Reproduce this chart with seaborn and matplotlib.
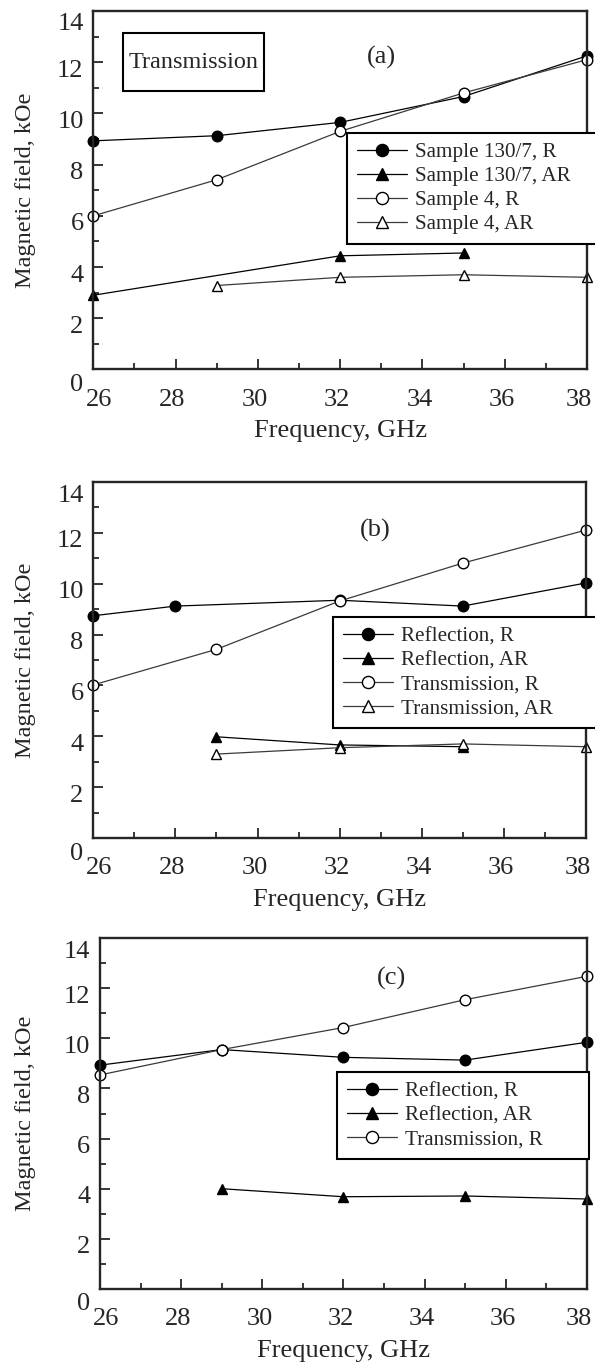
import matplotlib
matplotlib.use("Agg")
import matplotlib.pyplot as plt
import matplotlib.transforms as mtransforms
from matplotlib.patches import Rectangle
import seaborn as sns
import pandas as pd
from matplotlib.ticker import MultipleLocator

sns.set_style("ticks")
plt.rcParams['font.family'] = ['Liberation Serif', 'DejaVu Serif']

# ---------------- data ----------------
# Panel (a)
a_s130_R_x = [26, 29, 32, 35, 38]
a_s130_R_y = [8.93, 9.13, 9.65, 10.66, 12.25]
a_s130_AR_x = [26, 32, 35]
a_s130_AR_y = [2.9, 4.44, 4.55]
a_s4_R_x = [26, 29, 32, 35, 38]
a_s4_R_y = [6.0, 7.41, 9.3, 10.8, 12.1]
a_s4_AR_x = [29, 32, 35, 38]
a_s4_AR_y = [3.28, 3.6, 3.7, 3.6]
a_labels = ["Sample 130/7, R", "Sample 130/7, AR", "Sample 4, R", "Sample 4, AR"]

# Panel (b)
b_refl_R_x = [26, 28, 32, 35, 38]
b_refl_R_y = [8.74, 9.12, 9.35, 9.12, 10.03]
b_refl_AR_x = [29, 32, 35]
b_refl_AR_y = [3.98, 3.66, 3.59]
b_trans_R_x = [26, 29, 32, 35, 38]
b_trans_R_y = [6.02, 7.42, 9.32, 10.81, 12.11]
b_trans_AR_x = [29, 32, 35, 38]
b_trans_AR_y = [3.3, 3.55, 3.7, 3.59]
b_labels = ["Reflection, R", "Reflection, AR", "Transmission, R", "Transmission, AR"]

# Panel (c)
c_refl_R_x = [26, 29, 32, 35, 38]
c_refl_R_y = [8.93, 9.55, 9.24, 9.13, 9.84]
c_refl_AR_x = [29, 32, 35, 38]
c_refl_AR_y = [4.0, 3.68, 3.71, 3.59]
c_trans_R_x = [26, 29, 32, 35, 38]
c_trans_R_y = [8.54, 9.55, 10.43, 11.54, 12.47]
c_labels = ["Reflection, R", "Reflection, AR", "Transmission, R"]

x_ticks = [26, 28, 30, 32, 34, 36, 38]
y_ticks = [0, 2, 4, 6, 8, 10, 12, 14]
x_label = "Frequency, GHz"
y_label = "Magnetic field, kOe"

# ---------------- styles ----------------
STY = {
    "fc": dict(marker="o", markersize=7.6, markerfacecolor="black", markeredgecolor="black", color="black"),
    "ft": dict(marker="^", markersize=7.6, markerfacecolor="black", markeredgecolor="black", color="black"),
    "oc": dict(marker="o", markersize=7.6, markerfacecolor="white", markeredgecolor="black", color="#3a3a3a"),
    "ot": dict(marker="^", markersize=7.0, markerfacecolor="white", markeredgecolor="black", color="#3a3a3a"),
}

W, H = 595, 1363
fig = plt.figure(figsize=(W / 100, H / 100), dpi=100)


def make_axes(l, t, r, b):
    return fig.add_axes([l / W, 1 - b / H, (r - l) / W, (b - t) / H])


def offset(text, dx, dy):
    text.set_transform(text.get_transform() +
                       mtransforms.ScaledTranslation(dx / 100, -dy / 100, fig.dpi_scale_trans))


def draw(ax, series, labels, leg_px, panel_label, label_px, fig_box):
    l, t, r, b = fig_box
    for (x, y, key), lab in zip(series, labels):
        df = pd.DataFrame({"x": x, "y": y})
        sns.lineplot(data=df, x="x", y="y", ax=ax, label=lab, linewidth=0.9,
                     markeredgewidth=1.0, clip_on=False, **STY[key])
    ax.set_xlim(26, 38)
    ax.set_ylim(0, 14)
    ax.set_xticks(x_ticks)
    ax.set_yticks(y_ticks)
    ax.xaxis.set_minor_locator(MultipleLocator(1))
    ax.yaxis.set_minor_locator(MultipleLocator(1))
    ax.tick_params(axis="both", which="both", direction="in", top=False, right=False,
                   labelsize=19, width=1.3)
    ax.tick_params(which="major", length=7.5)
    ax.tick_params(which="minor", length=4.5)
    ax.tick_params(axis="x", pad=14)
    ax.tick_params(axis="y", pad=7)
    # fine placement of tick labels like in the original
    xt = ax.xaxis.get_major_ticks()
    for i, tk in enumerate(xt):
        dx = {0: 6, len(xt) - 1: -8}.get(i, -3)
        offset(tk.label1, dx, 0)
    yt = ax.yaxis.get_major_ticks()
    for i, tk in enumerate(yt):
        dy = {0: 13, len(yt) - 1: 11}.get(i, 6)
        offset(tk.label1, 0, dy)
    ax.set_xlabel(x_label, fontsize=19)
    ax.set_ylabel(y_label, fontsize=17.5)
    ax.xaxis.set_label_coords(0.5, -51 / (b - t))
    ax.yaxis.set_label_coords((36 - l) / (r - l), 0.5)
    for s in ax.spines.values():
        s.set_linewidth(1.7)
        s.set_visible(True)
    lx, ly, lr = leg_px
    leg = ax.legend(loc="upper left",
                    bbox_to_anchor=((lx - l) / (r - l), (b - ly) / (b - t),
                                    (lr - lx) / (r - l), 0),
                    mode="expand", markerscale=1.15,
                    frameon=True, fancybox=False, fontsize=15.2, handlelength=2.4,
                    handletextpad=0.35, labelspacing=0.2, borderpad=0.45,
                    borderaxespad=0, edgecolor="black", framealpha=1)
    leg.get_frame().set_linewidth(1.5)
    leg.set_clip_on(False)
    px, py = label_px
    ax.text((px - l) / (r - l), (b - py) / (b - t), panel_label, transform=ax.transAxes,
            fontsize=19, ha="center", va="center")


# Panel (a)
box_a = (93.3, 11, 587, 369.5)
ax_a = make_axes(*box_a)
draw(ax_a,
     [(a_s130_R_x, a_s130_R_y, "fc"), (a_s130_AR_x, a_s130_AR_y, "ft"),
      (a_s4_R_x, a_s4_R_y, "oc"), (a_s4_AR_x, a_s4_AR_y, "ot")],
     a_labels, (347, 133, 602), "(a)", (381, 57), box_a)
la, ta, ra, ba = box_a
ax_a.add_patch(Rectangle(((123 - la) / (ra - la), (ba - 91) / (ba - ta)),
                         (264 - 123) / (ra - la), (91 - 33) / (ba - ta),
                         transform=ax_a.transAxes, facecolor="white", edgecolor="black",
                         linewidth=1.5, zorder=5))
ax_a.text((194 - la) / (ra - la), (ba - 63) / (ba - ta), "Transmission",
          transform=ax_a.transAxes, fontsize=17.5, ha="center", va="center", zorder=6)

# Panel (b)
box_b = (93.3, 482, 586, 838)
ax_b = make_axes(*box_b)
draw(ax_b,
     [(b_refl_R_x, b_refl_R_y, "fc"), (b_refl_AR_x, b_refl_AR_y, "ft"),
      (b_trans_R_x, b_trans_R_y, "oc"), (b_trans_AR_x, b_trans_AR_y, "ot")],
     b_labels, (333, 617, 602), "(b)", (375, 530), box_b)

# Panel (c)
box_c = (100.2, 938, 586.7, 1289)
ax_c = make_axes(*box_c)
draw(ax_c,
     [(c_refl_R_x, c_refl_R_y, "fc"), (c_refl_AR_x, c_refl_AR_y, "ft"),
      (c_trans_R_x, c_trans_R_y, "oc")],
     c_labels, (337, 1072, 588.5), "(c)", (392, 978), box_c)

fig.savefig("out.png", dpi=100)
